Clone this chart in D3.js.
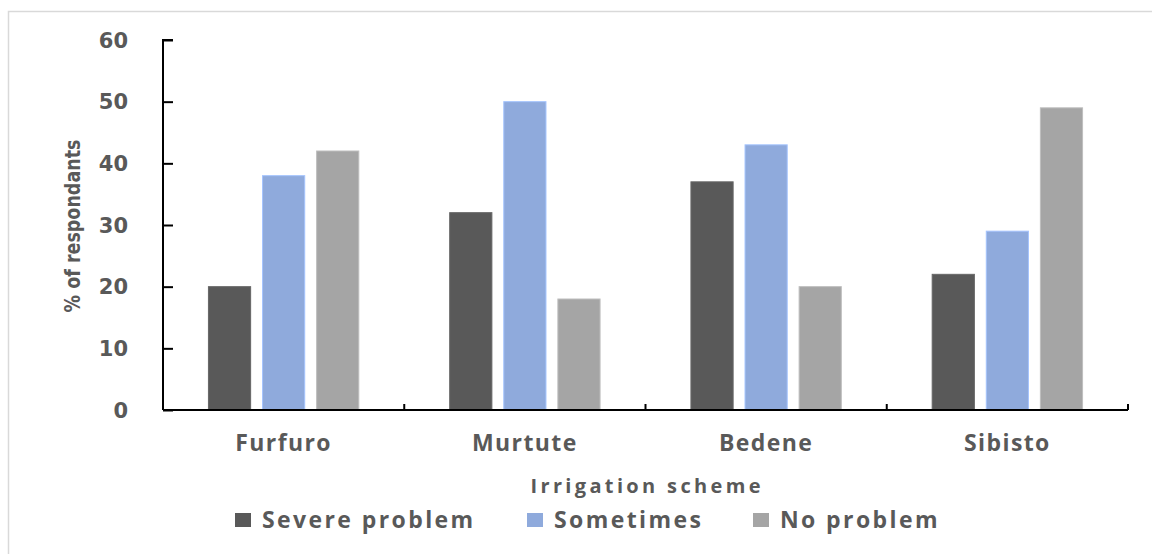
<!DOCTYPE html>
<html><head><meta charset="utf-8">
<script src="https://cdn.jsdelivr.net/npm/d3@7"></script>
<style>body{margin:0;background:#fff;}svg{display:block;}</style>
</head><body>
<svg id="c" width="1152" height="554"></svg>
<script>
const categories = ["Furfuro", "Murtute", "Bedene", "Sibisto"];
const seriesNames = ["Severe problem", "Sometimes", "No problem"];
const severe = [20, 32, 37, 22];
const sometimes = [38, 50, 43, 29];
const noProblem = [42, 18, 20, 49];
const yTicks = [0, 10, 20, 30, 40, 50, 60];
const colors = ["#595959", "#8faadc", "#a5a5a5"];
const series = [severe, sometimes, noProblem];

(function () {
const svg = d3.select("#c");
svg.append("rect").attr("x", 8.5).attr("y", 11.5).attr("width", 1160).attr("height", 560)
  .attr("fill", "none").attr("stroke", "#d9d9d9").attr("stroke-width", 1.5);

const pL = 163, pR = 1128, pT = 40, pB = 410;
const x = d3.scaleBand().domain(categories).range([pL, pR]);
const x1 = d3.scaleBand().domain(seriesNames).range([0, x.bandwidth()]).paddingInner(0.22).paddingOuter(0.84);
const y = d3.scaleLinear().domain([0, 60]).range([pB, pT]);

// bars
const g = svg.append("g");
categories.forEach((c, i) => {
  series.forEach((s, j) => {
    g.append("rect")
      .attr("x", x(c) + x1(seriesNames[j]))
      .attr("y", y(s[i]))
      .attr("width", x1.bandwidth())
      .attr("height", y(0) - y(s[i]))
      .attr("fill", colors[j])
      .attr("stroke", d3.color(colors[j]).brighter(0.4))
      .attr("stroke-width", 1);
  });
});

// y axis
const yAxis = d3.axisRight(y).tickValues(yTicks).tickSize(10).tickFormat("");
const ya = svg.append("g").attr("transform", `translate(${pL},0)`).call(yAxis);
ya.select(".domain").attr("stroke", "#000").attr("stroke-width", 2).attr("d", `M10,${pT}H0V${pB}`);
ya.selectAll(".tick line").attr("stroke", "#000").attr("stroke-width", 2);
svg.append("g").selectAll("text").data(yTicks).join("text")
  .attr("x", 128).attr("y", d => y(d)).attr("dy", "0.36em")
  .attr("text-anchor", "end")
  .attr("font-family", "DejaVu Sans").attr("font-weight", "bold").attr("font-size", 21)
  .attr("fill", "#595959").text(d => d);

// x axis
const bounds = categories.map(c => x(c) + x.bandwidth());
svg.append("line").attr("x1", pL).attr("x2", pR).attr("y1", pB).attr("y2", pB)
  .attr("stroke", "#000").attr("stroke-width", 2);
svg.append("g").selectAll("line").data(bounds).join("line")
  .attr("x1", d => d).attr("x2", d => d).attr("y1", pB).attr("y2", pB - 6)
  .attr("stroke", "#000").attr("stroke-width", 2);
svg.append("g").selectAll("text").data(categories).join("text")
  .attr("x", d => x(d) + x.bandwidth() / 2).attr("y", 451)
  .attr("text-anchor", "middle")
  .attr("font-family", "Open Sans").attr("font-weight", 700).attr("font-size", 23)
  .attr("letter-spacing", 1.4)
  .attr("fill", "#595959").text(d => d);

// axis titles
svg.append("text").attr("x", (pL + pR) / 2).attr("y", 493).attr("text-anchor", "middle")
  .attr("font-family", "Open Sans").attr("font-weight", 700).attr("font-size", 20)
  .attr("fill", "#595959").attr("textLength", 230).attr("lengthAdjust", "spacing")
  .text("Irrigation scheme");
svg.append("text").attr("transform", "translate(80,226) rotate(-90)").attr("text-anchor", "middle")
  .attr("font-family", "DejaVu Sans Condensed, DejaVu Sans").attr("font-stretch", "condensed")
  .attr("font-weight", "bold").attr("font-size", 21)
  .attr("fill", "#595959").attr("textLength", 173).attr("lengthAdjust", "spacingAndGlyphs")
  .text("% of respondants");

// legend
const legX = [235, 527, 753];
const lg = svg.append("g");
seriesNames.forEach((n, j) => {
  lg.append("rect").attr("x", legX[j]).attr("y", 513).attr("width", 16).attr("height", 14).attr("fill", colors[j]);
  lg.append("text").attr("x", legX[j] + 27).attr("y", 528)
    .attr("font-family", "Open Sans").attr("font-weight", 700).attr("font-size", 23)
    .attr("letter-spacing", 2.4)
    .attr("fill", "#595959").text(n);
});
})();
</script>
</body></html>
